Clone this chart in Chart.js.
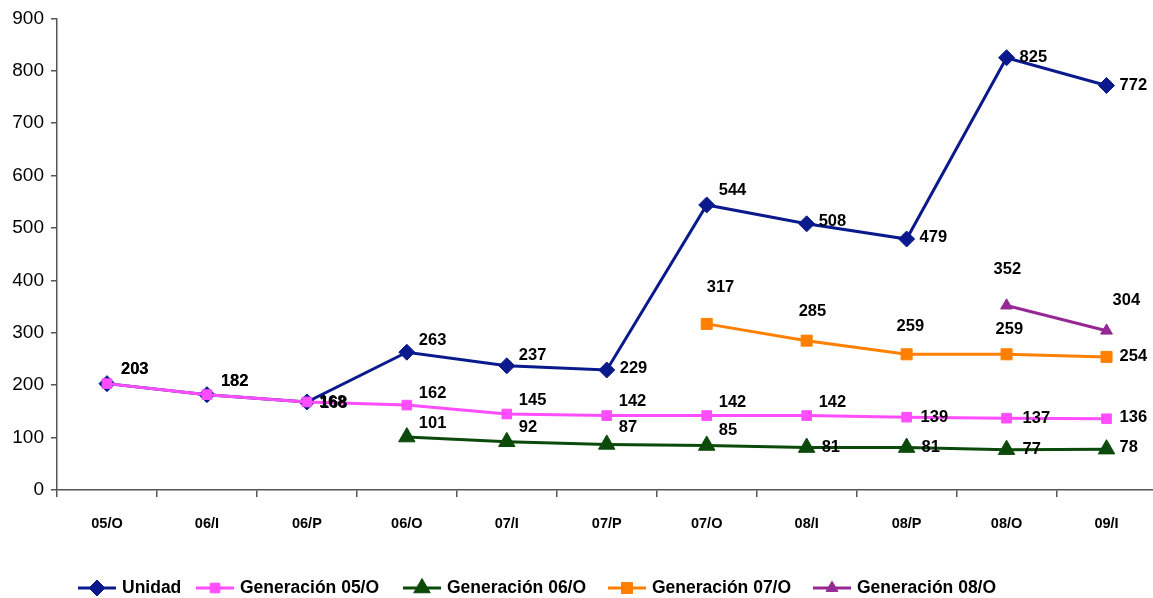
<!DOCTYPE html>
<html><head><meta charset="utf-8">
<script src="https://cdn.jsdelivr.net/npm/chart.js@4.4.1/dist/chart.umd.min.js"></script>
<style>
html,body{margin:0;padding:0;overflow:hidden;background:#fff;width:1153px;height:598px;}
#wrap{position:relative;width:1153px;height:598px;overflow:hidden;}
canvas{display:block;position:absolute;left:0;top:0;}
</style></head><body>
<div id="wrap"><canvas id="c" width="1167" height="598"></canvas></div>
<script>
const categories = ['05/O','06/I','06/P','06/O','07/I','07/P','07/O','08/I','08/P','08/O','09/I'];
const unidad = [203,182,168,263,237,229,544,508,479,825,772];
const gen05O = [203,182,168,162,145,142,142,142,139,137,136];
const gen06O = [null,null,null,101,92,87,85,81,81,77,78];
const gen07O = [null,null,null,null,null,null,317,285,259,259,254];
const gen08O = [null,null,null,null,null,null,null,null,null,352,304];
const seriesNames = ['Unidad','Generación 05/O','Generación 06/O','Generación 07/O','Generación 08/O'];
const yMin = 0, yMax = 900, yStep = 100;

// label placement (offsets from each point, text left-aligned, vertically centred)
const labelNudges = [
  [[14,-14],[14,-13],[12,0],[12,-12],[12,-10],[13,-2],[12,-14],[12,-2],[13,-2],[13,0],[13,0]],
  [[14,-14],[14,-13],[13,1],[12,-12],[12,-14],[12,-14],[12,-13],[12,-13],[14,0],[16,0],[13,-1]],
  [null,null,null,[12,-14],[12,-14],[12,-17],[12,-15],[15,0],[15,0],[16,0],[13,-2]],
  [null,null,null,null,null,null,[0,-36],[-8,-29],[-10,-28],[-11,-25],[13,0]],
  [null,null,null,null,null,null,null,null,null,[-13,-36],[6,-30]]
];
const legendStarts = [78,196,403,608,813];

const FONT = '"Liberation Sans", Arial, Helvetica, sans-serif';

const styles = [
  {color:'#0a1a8c', pointStyle:'rectRot', radius:8, order:5},
  {color:'#ff4dff', pointStyle:'rect', radius:6.8, order:4},
  {color:'#0b4a0b', pointStyle:'triangle', radius:9.5, order:3},
  {color:'#ff8000', pointStyle:'rect', radius:7.8, order:2},
  {color:'#962896', pointStyle:'triangle', radius:6.8, order:1}
];
const seriesData = [unidad, gen05O, gen06O, gen07O, gen08O];

const datasets = seriesData.map((d,i)=>({
  label: seriesNames[i],
  data: d,
  borderColor: styles[i].color,
  backgroundColor: styles[i].color,
  pointBackgroundColor: styles[i].color,
  pointBorderColor: styles[i].color,
  pointStyle: styles[i].pointStyle,
  pointRadius: styles[i].radius,
  pointHoverRadius: styles[i].radius,
  pointBorderWidth: 1,
  borderWidth: 3,
  tension: 0,
  spanGaps: false,
  clip: false,
  order: styles[i].order
}));

function drawMarker(ctx, style, r, x, y, color){
  ctx.save();
  ctx.fillStyle = color; ctx.strokeStyle = color; ctx.lineWidth = 1;
  ctx.beginPath();
  if (style === 'rectRot'){
    ctx.moveTo(x, y - r); ctx.lineTo(x + r, y); ctx.lineTo(x, y + r); ctx.lineTo(x - r, y);
  } else if (style === 'rect'){
    const s = Math.SQRT1_2 * r;
    ctx.rect(x - s, y - s, 2*s, 2*s);
  } else if (style === 'triangle'){
    ctx.moveTo(x, y - r);
    ctx.lineTo(x + 0.866*r, y + 0.5*r);
    ctx.lineTo(x - 0.866*r, y + 0.5*r);
  }
  ctx.closePath(); ctx.fill(); ctx.stroke();
  ctx.restore();
}

const valueLabels = {
  id:'valueLabels',
  afterDatasetsDraw(chart){
    const ctx = chart.ctx; ctx.save();
    ctx.font = 'bold 16.5px ' + FONT;
    ctx.fillStyle = '#000'; ctx.textAlign = 'left'; ctx.textBaseline = 'middle';
    chart.data.datasets.forEach((ds,i)=>{
      const meta = chart.getDatasetMeta(i);
      meta.data.forEach((pt,j)=>{
        const v = ds.data[j]; if (v == null) return;
        const n = (labelNudges[i] && labelNudges[i][j]) || [12,-8];
        ctx.fillText(String(v), pt.x + n[0], pt.y + n[1]);
      });
    });
    ctx.restore();
  }
};

const customLegend = {
  id:'customLegend',
  afterDraw(chart){
    const ctx = chart.ctx; ctx.save();
    ctx.font = 'bold 17.5px ' + FONT;
    ctx.textAlign = 'left'; ctx.textBaseline = 'middle';
    const y = 588;
    chart.data.datasets.forEach((ds,i)=>{
      const x = legendStarts[i];
      ctx.strokeStyle = ds.borderColor; ctx.lineWidth = 3;
      ctx.beginPath(); ctx.moveTo(x, y); ctx.lineTo(x + 38, y); ctx.stroke();
      drawMarker(ctx, ds.pointStyle, ds.pointRadius, x + 19, y, ds.borderColor);
      ctx.fillStyle = '#000';
      ctx.fillText(ds.label, x + 44, y);
    });
    ctx.restore();
  }
};

new Chart(document.getElementById('c'), {
  type:'line',
  data:{ labels: categories, datasets },
  options:{
    responsive:false, maintainAspectRatio:false, animation:false,
    layout:{ padding:{ top:11, right:0, bottom:0, left:0 } },
    plugins:{ legend:{display:false}, tooltip:{enabled:false} },
    scales:{
      x:{
        offset:true,
        grid:{ offset:true, drawOnChartArea:false, drawTicks:true, tickLength:7, color:'#555', lineWidth:1.5 },
        border:{ display:true, color:'#555', width:1.5 },
        ticks:{ color:'#000', font:{ family:FONT, size:14.5, weight:'bold' }, padding:18, maxRotation:0, autoSkip:false },
        afterFit(s){ s.height = 108; s.paddingLeft = 0; s.paddingRight = 0; }
      },
      y:{
        min:yMin, max:yMax,
        grid:{ drawOnChartArea:false, drawTicks:true, tickLength:6, color:'#555', lineWidth:1.5 },
        border:{ display:true, color:'#555', width:1.5 },
        ticks:{ stepSize:yStep, color:'#000', font:{ family:FONT, size:19 }, padding:7 },
        afterFit(s){ s.width = 57; }
      }
    }
  },
  plugins:[valueLabels, customLegend]
});
</script>
</body></html>
